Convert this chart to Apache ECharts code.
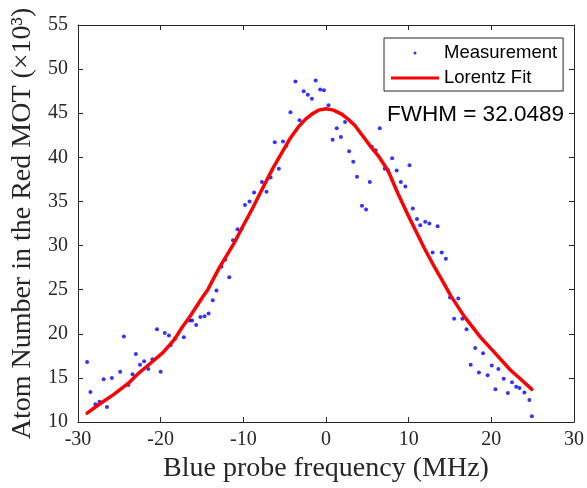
<!DOCTYPE html>
<html>
<head>
<meta charset="utf-8">
<script src="https://cdn.jsdelivr.net/npm/echarts@6/dist/echarts.min.js"></script>
<style>html,body{margin:0;padding:0;background:#fff}#c{width:587px;height:488px}</style>
</head>
<body>
<div id="c"></div>
<script>
// Measured atom numbers (x10^3) vs blue probe detuning (MHz)
const measX = [-28.9,-28.5,-27.9,-27.4,-26.9,-26.5,-25.9,-24.9,-24.45,-23.9,-23.4,-23.0,-22.5,-22.0,-21.5,-21.0,-20.45,-20.0,-19.5,-19.0,-18.8,-18.25,-17.2,-16.5,-16.2,-15.7,-15.2,-14.7,-14.2,-13.7,-13.25,-12.65,-12.2,-11.7,-11.25,-10.7,-10.2,-9.8,-9.25,-8.7,-7.75,-7.2,-6.7,-6.2,-5.7,-5.2,-4.8,-4.3,-3.7,-3.2,-2.7,-2.2,-1.7,-1.25,-0.7,-0.25,0.3,0.8,1.3,1.8,2.3,2.8,3.3,3.75,4.35,4.85,5.3,5.55,6.0,6.5,7.1,7.5,8.0,8.55,9.05,9.6,10.1,10.5,11.0,11.4,12.0,12.5,12.9,13.5,14.0,14.5,15.0,15.5,16.0,16.5,17.0,17.5,18.05,18.5,19.0,19.55,20.05,20.5,20.85,21.5,22.0,22.5,23.0,23.4,24.0,24.6,24.9];
const measY = [16.8,13.4,12.0,12.3,14.85,11.7,15.0,15.7,19.7,14.2,15.4,17.7,16.5,16.9,16.0,17.1,20.5,15.7,20.1,19.8,18.7,19.5,19.6,21.5,21.5,21.0,21.9,22.0,22.3,23.8,24.9,27.6,28.4,26.4,30.6,31.85,31.9,34.6,35.0,36.0,37.2,36.1,37.7,41.7,38.7,41.8,41.3,45.1,48.6,44.2,47.5,47.1,46.65,48.7,47.7,47.6,45.9,42.0,43.3,42.3,44.0,40.7,39.5,37.8,34.5,34.1,37.2,41.2,40.8,43.3,38.7,38.5,39.9,38.5,37.2,36.7,39.1,34.2,33.0,32.3,32.7,32.5,29.2,32.2,29.2,28.5,24.1,21.7,24.0,21.7,20.5,16.5,18.4,15.6,17.8,15.3,16.4,13.7,16.0,14.9,13.3,14.5,14.0,13.85,13.35,12.5,10.65];
// Lorentz fit curve
const fitX = [-28.9,-27.3,-25.7,-23.9,-22.7,-21.3,-19.7,-18.3,-17.5,-16.5,-14.9,-14.3,-12.9,-11.1,-10.1,-8.9,-7.5,-6.4,-5.3,-4.3,-3.3,-2.5,-1.7,-0.9,0,0.9,1.9,2.7,3.5,4.7,5.5,6.3,7.5,8.7,9.9,11.9,13.1,13.9,15.1,16.7,18.7,20.7,22.3,23.5,24.9];
const fitY = [11.0,12.1,13.1,14.4,15.5,16.6,17.9,19.4,20.6,21.9,24.2,25.0,27.5,30.3,32.1,34.2,36.8,38.8,40.6,42.2,43.5,44.3,44.9,45.35,45.5,45.35,44.9,44.3,43.6,42.1,41.1,40.2,38.5,35.9,33.5,29.7,27.6,26.3,24.3,22.0,19.6,17.55,15.9,14.9,13.7];
const xTicks = {min:-30, max:30, interval:10};
const yTicks = {min:10, max:55, interval:5};
const fwhmText = 'FWHM = 32.0489';

const axisColor = '#262626';
const serif = 'Liberation Serif';
const sans = 'Liberation Sans';

function boxAxis(base, pos, showLabel, extra){
  return Object.assign({
    type:'value', position:pos,
    min:base.min, max:base.max, interval:base.interval,
    axisLine:{show:true, onZero:false, lineStyle:{color:axisColor, width:1}},
    axisTick:{show:true, inside:true, length:5, lineStyle:{color:axisColor}},
    splitLine:{show:false},
    axisLabel:{show:showLabel, color:axisColor, fontFamily:serif, fontSize:20}
  }, extra||{});
}

const chart = echarts.init(document.getElementById('c'), null, {renderer:'canvas'});
chart.setOption({
  animation:false,
  backgroundColor:'#fff',
  grid:{left:78, right:9, top:25, bottom:62},
  xAxis:[
    boxAxis(xTicks,'bottom',true,{
      name:'Blue probe frequency (MHz)', nameLocation:'middle', nameGap:33,
      nameTextStyle:{fontFamily:serif, fontSize:28, color:axisColor},
      axisLabel:{show:true, color:axisColor, fontFamily:serif, fontSize:20, margin:8}
    }),
    boxAxis(xTicks,'top',false)
  ],
  yAxis:[
    boxAxis(yTicks,'left',true,{
      name:'Atom Number in the Red MOT (\u00d710\u00b3)', nameLocation:'middle', nameGap:41,
      nameTextStyle:{fontFamily:serif, fontSize:28, color:axisColor},
      axisLabel:{show:true, color:axisColor, fontFamily:serif, fontSize:20, margin:10}
    }),
    boxAxis(yTicks,'right',false)
  ],
  legend:{
    orient:'vertical', left:384, top:38,
    padding:[5,6,3,7], itemWidth:48, itemHeight:3, itemGap:5,
    borderColor:axisColor, borderWidth:1, backgroundColor:'#fff',
    textStyle:{fontFamily:sans, fontSize:18.5, color:'#000', lineHeight:20},
    data:[{name:'Measurement', icon:'circle'},{name:'Lorentz Fit', icon:'rect'}]
  },
  graphic:[{
    type:'text', left:387, top:103,
    style:{text:fwhmText, fontFamily:sans, fontSize:22.5, fill:'#000'}
  }],
  series:[
    {
      name:'Measurement', type:'scatter', xAxisIndex:0, yAxisIndex:0,
      symbol:'circle', symbolSize:4,
      itemStyle:{color:'#0000ff'},
      data: measX.map((x,i)=>[x, measY[i]]),
      z:3
    },
    {
      name:'Lorentz Fit', type:'line', xAxisIndex:0, yAxisIndex:0,
      showSymbol:false, symbol:'none', smooth:false,
      lineStyle:{color:'#ff0000', width:3.5, join:'round', cap:'round'},
      itemStyle:{color:'#ff0000'},
      data: fitX.map((x,i)=>[x, fitY[i]]),
      z:4
    }
  ]
});
</script>
</body>
</html>
